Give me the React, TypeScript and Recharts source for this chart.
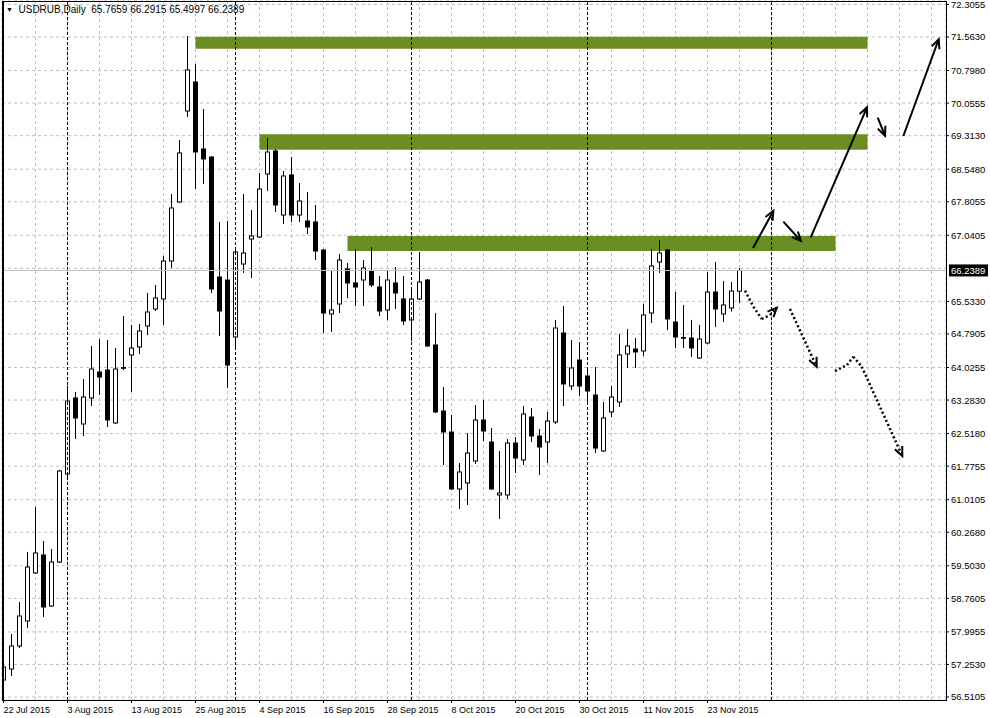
import React from "react";
import { Bar, CartesianGrid, ComposedChart, ReferenceArea, ReferenceLine, XAxis, YAxis } from "recharts";

// USDRUB daily, 22 Jul 2015 .. 27 Nov 2015
const opens = [
  56.898, 57.149, 57.674, 58.244, 59.339, 59.749, 58.586, 59.589, 61.596, 63.33,
  62.737, 63.33, 63.923, 63.968, 62.76, 64.014, 64.311, 64.493, 64.972, 65.36,
  65.588, 66.454, 67.8, 69.875, 70.537, 69.009, 68.826, 66.089, 66.021, 64.721,
  66.386, 66.956, 67.002, 68.439, 68.963, 67.503, 68.416, 67.503, 67.367, 67.344,
  66.705, 65.246, 65.474, 66.272, 65.953, 66.021, 66.226, 65.861, 65.337, 65.953,
  65.588, 65.109, 65.588, 66.021, 64.539, 63.033, 62.554, 61.254, 61.391, 61.893,
  62.828, 62.326, 61.118, 61.118, 62.303, 61.916, 62.896, 62.463, 62.326, 62.782,
  64.812, 63.603, 64.196, 63.832, 63.398, 62.121, 63.011, 63.239, 64.333, 64.447,
  64.402, 65.268, 66.432, 66.705, 65.063, 64.698, 64.698, 64.242, 64.584, 65.747,
  65.246, 65.382, 65.7659,
];
const highs = [
  57.491, 57.947, 58.677, 59.818, 60.844, 60.068, 59.886, 61.688, 63.603, 63.467,
  63.763, 64.516, 64.675, 64.652, 64.47, 65.2, 64.995, 65.018, 65.725, 65.907,
  66.568, 67.982, 69.214, 71.586, 70.947, 69.921, 68.849, 67.344, 67.367, 66.774,
  67.982, 67.618, 68.461, 69.26, 69.009, 68.507, 68.826, 68.233, 68.028, 67.732,
  66.728, 66.226, 66.614, 66.409, 66.728, 66.477, 66.774, 66.112, 66.249, 66.318,
  66.112, 65.793, 66.66, 66.044, 65.268, 63.581, 62.942, 61.847, 62.532, 63.17,
  63.284, 62.646, 62.121, 62.395, 62.44, 63.147, 63.102, 62.623, 63.011, 65.109,
  65.428, 64.652, 64.607, 64.014, 64.037, 63.239, 63.603, 64.789, 64.903, 64.698,
  65.474, 66.728, 66.933, 66.728, 65.747, 65.451, 65.109, 64.995, 66.203, 66.432,
  65.998, 65.975, 66.2915,
];
const lows = [
  56.83, 56.989, 57.628, 58.084, 59.316, 58.335, 58.563, 59.567, 61.482, 62.395,
  62.463, 63.147, 63.398, 62.668, 62.737, 63.968, 63.467, 64.333, 64.767, 65.314,
  64.995, 66.295, 67.777, 69.739, 68.096, 68.211, 65.725, 64.744, 63.558, 64.493,
  66.181, 66.067, 66.979, 68.051, 67.572, 67.298, 67.344, 67.344, 67.07, 66.477,
  64.812, 64.835, 65.268, 65.611, 65.428, 65.428, 65.861, 65.2, 65.109, 65.36,
  64.995, 64.63, 65.565, 64.493, 62.99, 61.802, 61.231, 60.798, 60.889, 61.825,
  62.349, 61.231, 60.57, 61.026, 61.619, 61.802, 62.326, 61.574, 61.847, 62.737,
  63.147, 63.512, 63.375, 63.239, 62.075, 62.098, 62.896, 63.125, 64.014, 64.014,
  64.288, 65.04, 66.181, 64.881, 64.47, 64.47, 64.265, 64.219, 64.561, 64.949,
  65.063, 65.3, 65.4997,
];
const closes = [
  57.195, 57.674, 58.358, 59.475, 59.795, 58.563, 59.589, 61.665, 63.261, 62.874,
  63.353, 63.991, 63.809, 62.828, 63.991, 64.025, 64.47, 64.858, 65.291, 65.611,
  66.454, 67.663, 68.918, 70.811, 68.94, 68.781, 65.816, 65.314, 64.082, 66.66,
  66.637, 67.025, 68.096, 68.94, 67.732, 68.393, 67.503, 67.823, 67.23, 66.682,
  65.268, 65.337, 66.477, 65.953, 65.861, 66.295, 65.907, 65.314, 66.021, 65.725,
  65.086, 65.588, 65.975, 64.516, 63.011, 62.554, 61.254, 61.642, 62.075, 62.828,
  62.577, 61.254, 61.163, 62.303, 61.961, 62.965, 62.463, 62.212, 62.805, 64.926,
  63.649, 64.014, 63.603, 63.489, 62.189, 62.874, 63.353, 64.311, 64.516, 64.379,
  65.223, 66.34, 66.637, 65.132, 64.721, 64.71, 64.47, 64.675, 65.747, 65.36,
  65.451, 65.77, 66.2389,
];

const dateLabels = [
  "22 Jul 2015", "3 Aug 2015", "13 Aug 2015", "25 Aug 2015", "4 Sep 2015", "16 Sep 2015",
  "28 Sep 2015", "8 Oct 2015", "20 Oct 2015", "30 Oct 2015", "11 Nov 2015", "23 Nov 2015",
];
const gridBars = Array.from({ length: 30 }, (_, k) => k * 4);
const priceTicks = [
  72.3055, 71.563, 70.798, 70.0555, 69.313, 68.548, 67.8055, 67.0405, 66.287, 65.533, 64.7905,
  64.0255, 63.283, 62.518, 61.7755, 61.0105, 60.268, 59.503, 58.7605, 57.9955, 57.253, 56.5105,
];
const hiddenTick = 66.287;
const lastPrice = 66.2389;
const monthStarts = [8, 29, 51, 73, 96];

// resistance zones: first bar, last bar, upper price, lower price
const zoneStart = [24, 32, 43];
const zoneEnd = [108, 108, 104];
const zoneTop = [71.57, 69.344, 67.025];
const zoneBottom = [71.296, 68.993, 66.682];

// hand-drawn scenario arrows, [bar, price] points
const bullArrows = [
  [[93.69, 66.751], [96.23, 67.595]],
  [[97.48, 67.351], [99.69, 66.91]],
  [[100.9, 66.995], [107.94, 69.96]],
  [[109.28, 69.723], [110.19, 69.312]],
  [[112.48, 69.305], [116.9, 71.512]],
];
const bearArrows = [
  [[92.69, 65.777], [93.73, 65.412], [94.78, 65.132], [95.81, 65.223], [96.65, 65.389]],
  [[98.31, 65.36], [101.65, 64.044]],
  [[103.94, 63.945], [105.44, 64.082], [106.23, 64.272], [107.28, 64.043], [112.35, 62.007]],
];

const rows = opens.map((open, i) => ({
  bar: i,
  open,
  high: highs[i],
  low: lows[i],
  close: closes[i],
}));

const FONT = "'Liberation Sans', Arial, sans-serif";

function Candle(props: any) {
  const { x, y, width, height, payload } = props;
  if (payload == null || x == null || y == null) return null;
  const { open, close, high, low } = payload;
  const cx = x + width / 2;
  const top = Math.min(y, y + height);
  const h = Math.abs(height);
  const k = h / (high - low || 1);
  const yO = top + (high - open) * k;
  const yC = top + (high - close) * k;
  const bodyTop = Math.min(yO, yC);
  const bodyH = Math.max(Math.abs(yO - yC), 0.8);
  const up = close >= open;
  return (
    <g>
      <line x1={cx} x2={cx} y1={top} y2={top + h} stroke="#000" strokeWidth={1} />
      <rect x={cx - 2} y={bodyTop} width={4} height={bodyH} fill={up ? "#fff" : "#000"} stroke="#000" strokeWidth={1} />
    </g>
  );
}

const arrowShape = (head: boolean, dotted: boolean) => (p: any) => {
  const { x1, y1, x2, y2 } = p;
  const ang = Math.atan2(y2 - y1, x2 - x1);
  const len = 10;
  const spread = 0.42;
  const h1 = `${x2 - len * Math.cos(ang - spread)},${y2 - len * Math.sin(ang - spread)}`;
  const h2 = `${x2 - len * Math.cos(ang + spread)},${y2 - len * Math.sin(ang + spread)}`;
  return (
    <g>
      <line x1={x1} y1={y1} x2={x2} y2={y2} stroke="#000" strokeWidth={dotted ? 2.5 : 2} strokeDasharray={dotted ? "2 2.5" : undefined} />
      {head && <polyline points={`${h1} ${x2},${y2} ${h2}`} fill="none" stroke="#000" strokeWidth={2} />}
    </g>
  );
};

function DateTick(props: any) {
  const { x, y, payload } = props;
  const v = payload.value;
  if (v % 8 !== 0 || v / 8 >= dateLabels.length) return null;
  return (
    <g>
      <line x1={x} x2={x} y1={y} y2={y + 3} stroke="#000" />
      <text x={x} y={y + 13} fontSize={9} fontFamily={FONT} fill="#000" textAnchor="start">
        {dateLabels[v / 8]}
      </text>
    </g>
  );
}

function PriceTick(props: any) {
  const { x, y, payload } = props;
  if (payload.value === hiddenTick) return null;
  return (
    <g>
      <line x1={x} x2={x + 3} y1={y} y2={y} stroke="#000" />
      <text x={x + 5} y={y + 3.5} fontSize={9.5} fontFamily={FONT} fill="#000" textAnchor="start">
        {payload.value.toFixed(4)}
      </text>
    </g>
  );
}

function PriceTag(props: any) {
  const { viewBox } = props;
  if (!viewBox) return null;
  const { x, y, width } = viewBox;
  const left = x + width + 3;
  return (
    <g>
      <rect x={left} y={y - 6} width={39} height={12} fill="#000" />
      <text x={left + 2} y={y + 3.5} fontSize={9.5} fontFamily={FONT} fill="#fff">
        {lastPrice.toFixed(4)}
      </text>
    </g>
  );
}

export default function App() {
  return (
    <div style={{ position: "fixed", left: 0, top: 0, width: 990, height: 718, background: "#fff" }}>
      <ComposedChart width={990} height={718} data={rows} margin={{ top: 1, right: 0, bottom: 0, left: 2 }}>
        <CartesianGrid stroke="#c0c0c0" strokeDasharray="3 3" />
        <XAxis
          dataKey="bar"
          type="number"
          domain={[-0.1875, 117.8125]}
          ticks={gridBars}
          interval={0}
          height={18}
          tickSize={0}
          tickMargin={0}
          axisLine={false}
          tick={<DateTick />}
          allowDataOverflow
        />
        <YAxis
          orientation="right"
          type="number"
          domain={[56.442, 72.384]}
          ticks={priceTicks}
          interval={0}
          width={44}
          tickSize={0}
          tickMargin={0}
          axisLine={false}
          tick={<PriceTick />}
          allowDataOverflow
        />
        {zoneStart.map((s, i) => (
          <ReferenceArea key={`z${i}`} x1={s} x2={zoneEnd[i]} y1={zoneBottom[i]} y2={zoneTop[i]} fill="#6b8e23" fillOpacity={1} stroke="none" ifOverflow="visible" />
        ))}
        {monthStarts.map((m) => (
          <ReferenceLine key={`m${m}`} x={m} stroke="#000" strokeDasharray="3 2" />
        ))}
        <ReferenceLine y={lastPrice} stroke="#c0c0c0" label={PriceTag} />
        <Bar dataKey={(d: any) => [d.low, d.high]} barSize={4} shape={Candle} isAnimationActive={false} />
        {bullArrows.map((path, i) =>
          path.slice(1).map((pt, j) => (
            <ReferenceLine
              key={`b${i}-${j}`}
              segment={[{ x: path[j][0], y: path[j][1] }, { x: pt[0], y: pt[1] }]}
              shape={arrowShape(j === path.length - 2, false)}
              ifOverflow="visible"
            />
          ))
        )}
        {bearArrows.map((path, i) =>
          path.slice(1).map((pt, j) => (
            <ReferenceLine
              key={`d${i}-${j}`}
              segment={[{ x: path[j][0], y: path[j][1] }, { x: pt[0], y: pt[1] }]}
              shape={arrowShape(j === path.length - 2, true)}
              ifOverflow="visible"
            />
          ))
        )}
      </ComposedChart>
      <div
        style={{
          position: "absolute",
          left: 2,
          top: 1,
          width: 945,
          height: 700,
          border: "1px solid #000",
          borderLeftWidth: 2,
          boxSizing: "border-box",
          pointerEvents: "none",
        }}
      />
      <div
        style={{
          position: "absolute",
          left: 6,
          top: 4,
          fontFamily: FONT,
          fontSize: 10,
          color: "#000",
          whiteSpace: "pre",
          lineHeight: "12px",
        }}
      >
        <span style={{ fontSize: 7, verticalAlign: 1 }}>▼</span>
        {"  USDRUB,Daily  65.7659 66.2915 65.4997 66.2389"}
      </div>
    </div>
  );
}
